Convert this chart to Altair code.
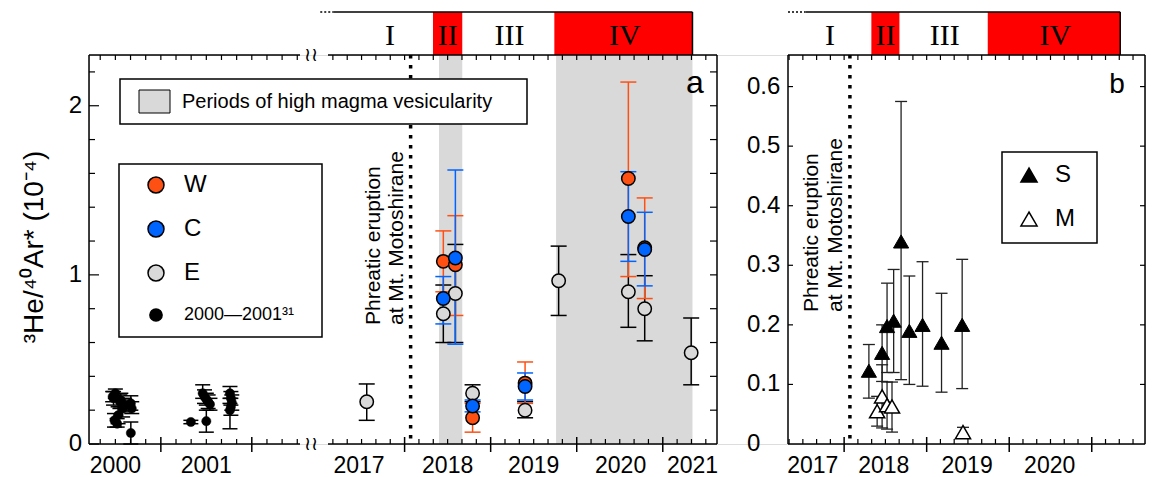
import altair as alt
import pandas as pd
import numpy as np

# ---------------- data ----------------
# Panel a, 2000-2001 data (black dots, ref. 31)
old_year = [2000.47, 2000.55, 2000.50, 2000.58, 2000.48, 2000.53, 2000.60, 2000.49, 2000.56, 2000.52,
            2000.67, 2000.68, 2000.67,
            2001.33,
            2001.46, 2001.48, 2001.50, 2001.52, 2001.54, 2001.50,
            2001.76, 2001.77, 2001.78, 2001.77, 2001.76]
old_val = [0.28, 0.25, 0.30, 0.21, 0.27, 0.17, 0.23, 0.14, 0.26, 0.12,
           0.24, 0.21, 0.065,
           0.13,
           0.30, 0.28, 0.265, 0.25, 0.235, 0.135,
           0.30, 0.27, 0.245, 0.22, 0.20]
old_lo = [0.25, 0.21, 0.27, 0.16, 0.23, 0.12, 0.19, 0.10, 0.22, 0.10,
          0.20, 0.18, 0.0,
          0.12,
          0.27, 0.24, 0.23, 0.21, 0.20, 0.07,
          0.27, 0.23, 0.20, 0.17, 0.09]
old_hi = [0.31, 0.29, 0.325, 0.26, 0.31, 0.22, 0.27, 0.18, 0.30, 0.15,
          0.285, 0.25, 0.13,
          0.14,
          0.35, 0.32, 0.30, 0.29, 0.27, 0.20,
          0.34, 0.31, 0.29, 0.27, 0.24]

# Panel a, 2017-2021: W, C, E
w_year = [2018.45, 2018.59, 2018.79, 2019.40, 2020.60, 2020.79]
w_val = [1.08, 1.06, 0.155, 0.36, 1.57, 1.16]
w_lo = [0.90, 0.76, 0.07, 0.24, 0.99, 0.86]
w_hi = [1.26, 1.35, 0.24, 0.485, 2.14, 1.455]

c_year = [2018.45, 2018.59, 2018.79, 2019.40, 2020.60, 2020.79]
c_val = [0.86, 1.10, 0.225, 0.34, 1.345, 1.15]
c_lo = [0.71, 0.59, 0.19, 0.26, 1.08, 0.935]
c_hi = [0.99, 1.62, 0.26, 0.42, 1.61, 1.37]

e_year = [2017.56, 2018.45, 2018.59, 2018.79, 2019.40, 2019.79, 2020.60, 2020.79, 2021.33]
e_val = [0.25, 0.77, 0.89, 0.30, 0.20, 0.965, 0.90, 0.80, 0.54]
e_lo = [0.14, 0.60, 0.60, 0.25, 0.155, 0.76, 0.69, 0.61, 0.35]
e_hi = [0.355, 0.94, 1.18, 0.35, 0.25, 1.17, 1.12, 0.995, 0.745]

# Panel b: S (filled triangles), M (open triangles)
s_year = [2018.30, 2018.46, 2018.52, 2018.60, 2018.69, 2018.79, 2018.95, 2019.18, 2019.43]
s_val = [0.123, 0.153, 0.198, 0.207, 0.34, 0.19, 0.20, 0.17, 0.20]
s_lo = [0.077, 0.105, 0.12, 0.12, 0.108, 0.10, 0.097, 0.087, 0.093]
s_hi = [0.167, 0.20, 0.27, 0.293, 0.575, 0.282, 0.306, 0.253, 0.31]

m_year = [2018.40, 2018.46, 2018.52, 2018.58, 2019.44]
m_val = [0.055, 0.08, 0.065, 0.063, 0.02]
m_lo = [0.03, 0.027, 0.025, 0.02, 0.012]
m_hi = [0.08, 0.133, 0.104, 0.104, 0.028]

# Periods (top bar) and high-vesicularity periods
periods = ["I", "II", "III", "IV"]
period_start = [2017.17, 2018.33, 2018.67, 2019.74]
period_end = [2018.33, 2018.67, 2019.74, 2021.345]
period_label_x = [2017.83, 2018.50, 2019.22, 2020.56]
period_red = [False, True, False, True]
ves_start = [2018.40, 2019.76]
ves_end = [2018.67, 2021.345]
eruption_year = [2018.07]

a_ylabels = [0, 1, 2]
b_ylabels = [0, 0.1, 0.2, 0.3, 0.4, 0.5, 0.6]
old_labels = ["2000", "2001"]
old_label_x = [2000.5, 2001.5]
a_labels = ["2017", "2018", "2019", "2020", "2021"]
a_label_x = [2017.47, 2018.5, 2019.5, 2020.51, 2021.345]
b_labels = ["2017", "2018", "2019", "2020"]
b_label_x = [2017.62, 2018.48, 2019.49, 2020.49]

series_names = ["W", "C", "E", "2000\u20142001\u00b3\u00b9"]
ms_names = ["S", "M"]
y_title = "\u00b3He/\u2074\u2070Ar* (10\u207b\u2074)"

# ---------------- layout / styles ----------------
FONT = "Liberation Sans"
ORANGE = "#ff5014"
BLUE = "#0064ff"
LGRAY = "#d9d9d9"
RED = "#ff0000"
TW = 1056            # whole plotting strip width
H = 389              # plot height
# panel geometry: (x offset in px, width in px, year domain)
PL = (0, 211, [2000.21, 2002.53])
PA = (239, 389, [2017.11, 2021.63])
PB = (699, 357, [2017.32, 2021.645])
ydomA = [0, 2.3]
ydomB = [0, 0.653]
dummy = pd.DataFrame({"d": [0]})


def bimonthly(dom):
    k0 = int(np.ceil(dom[0] * 6 + 1e-6))
    k1 = int(np.floor(dom[1] * 6 - 1e-6))
    return [k / 6 for k in range(k0, k1 + 1)]


def make_enc(panel, ydom):
    x0, w, dom = panel
    k = w / (dom[1] - dom[0])
    xdom = [dom[0] - x0 / k, dom[0] + (TW - x0) / k]

    def X(f):
        return alt.X(f, type="quantitative", scale=alt.Scale(domain=xdom, nice=False, zero=False), axis=None)

    def Y(f):
        return alt.Y(f, type="quantitative", scale=alt.Scale(domain=ydom, nice=False, zero=False), axis=None)
    return X, Y


def errbars(df, X, Y, color, cap, sw):
    r = alt.Chart(df).mark_rule(color=color, strokeWidth=sw, opacity=1).encode(
        x=X("x"), y=Y("lo"), y2=alt.Y2("hi"))
    lo = alt.Chart(df).mark_tick(color=color, orient="horizontal", size=cap, thickness=sw, opacity=1).encode(
        x=X("x"), y=Y("lo"))
    hi = alt.Chart(df).mark_tick(color=color, orient="horizontal", size=cap, thickness=sw, opacity=1).encode(
        x=X("x"), y=Y("hi"))
    return [r, lo, hi]


def points(df, X, Y, fill, size, shape="circle", sw=1.5):
    return alt.Chart(df).mark_point(shape=shape, filled=True, fill=fill, stroke="black",
                                    strokeWidth=sw, size=size, opacity=1).encode(x=X("x"), y=Y("v"))


def xticks(vals, X, y0, y1, sw=1.2):
    return alt.Chart(pd.DataFrame({"t": vals})).mark_rule(color="black", strokeWidth=sw).encode(
        x=X("t"), y=alt.value(y0), y2=alt.value(y1))


def yticks(vals, Y, x0, x1, sw=1.2):
    return alt.Chart(pd.DataFrame({"t": vals})).mark_rule(color="black", strokeWidth=sw).encode(
        y=Y("t"), x=alt.value(x0), x2=alt.value(x1))


def hline(x0, x1, y, sw=1.5):
    return alt.Chart(dummy).mark_rule(color="black", strokeWidth=sw).encode(
        x=alt.value(x0), x2=alt.value(x1), y=alt.value(y))


def vline(x, y0, y1, sw=1.5):
    return alt.Chart(dummy).mark_rule(color="black", strokeWidth=sw).encode(
        x=alt.value(x), y=alt.value(y0), y2=alt.value(y1))


def year_text(labels, xs, X):
    return alt.Chart(pd.DataFrame({"x": xs, "t": labels})).mark_text(
        fontSize=23, font=FONT, baseline="alphabetic", align="center", color="black").encode(
        x=X("x"), y=alt.value(H + 29), text="t:N")


def ylabels(vals, Y, x, align, fmt):
    df = pd.DataFrame({"t": vals, "s": [fmt(v) for v in vals]})
    return alt.Chart(df).mark_text(fontSize=24, font=FONT, align=align, baseline="middle",
                                   color="black").encode(y=Y("t"), x=alt.value(x), text="s:N")


def top_bar(X, dotted_start, solid_start):
    bar_df = pd.DataFrame({"s": period_start, "e": period_end, "lab": periods,
                           "lx": period_label_x, "red": period_red})
    layers = []
    layers.append(alt.Chart(bar_df).transform_filter("datum.red").mark_rect(color=RED).encode(
        x=X("s"), x2="e", y=alt.value(-43), y2=alt.value(0)))
    line_df = pd.DataFrame({"a": [dotted_start], "b": [solid_start], "e": [period_end[-1]]})
    layers.append(alt.Chart(line_df).mark_rule(color="black", strokeWidth=1.5).encode(
        x=X("b"), x2="e", y=alt.value(-43)))
    layers.append(alt.Chart(line_df).mark_rule(color="black", strokeWidth=1.5, strokeDash=[2, 2]).encode(
        x=X("a"), x2="b", y=alt.value(-43)))
    layers.append(alt.Chart(line_df).mark_rule(color="black", strokeWidth=1.5).encode(
        x=X("e"), y=alt.value(-43), y2=alt.value(0)))
    layers.append(alt.Chart(bar_df).mark_text(font="Liberation Serif", fontSize=30, baseline="middle",
                                              color="black").encode(
        x=X("lx"), y=alt.value(-19), text="lab:N"))
    return layers


def eruption_line(X):
    return alt.Chart(pd.DataFrame({"x": eruption_year})).mark_rule(
        color="black", strokeWidth=3.5, strokeDash=[3.5, 6.5]).encode(
        x=X("x"), y=alt.value(0), y2=alt.value(H))


def df_of(x, v, lo, hi):
    return pd.DataFrame({"x": x, "v": v, "lo": lo, "hi": hi})


def text_at(txt, x, y, size, align="left", baseline="middle", **kw):
    return alt.Chart(dummy).mark_text(text=txt, fontSize=size, font=kw.pop("font", FONT), align=align,
                                      baseline=baseline, color="black", **kw).encode(
        x=alt.value(x), y=alt.value(y))


def box(x0, x1, y0, y1, fill="white", sw=1.5):
    return alt.Chart(dummy).mark_rect(fill=fill, stroke="black", strokeWidth=sw).encode(
        x=alt.value(x0), x2=alt.value(x1), y=alt.value(y0), y2=alt.value(y1))


XL, YL = make_enc(PL, ydomA)
XA, YA = make_enc(PA, ydomA)
XB, YB = make_enc(PB, ydomB)
aL, aR, bL, bR = PL[0], PL[0] + PL[1], PB[0], PB[0] + PB[1]
arL, arR = PA[0], PA[0] + PA[1]

old_df = df_of(old_year, old_val, old_lo, old_hi)
e_df = df_of(e_year, e_val, e_lo, e_hi)
w_df = df_of(w_year, w_val, w_lo, w_hi)
c_df = df_of(c_year, c_val, c_lo, c_hi)
s_df = df_of(s_year, s_val, s_lo, s_hi)
m_df = df_of(m_year, m_val, m_lo, m_hi)

layers = []
# background elements
layers.append(alt.Chart(pd.DataFrame({"s": ves_start, "e": ves_end})).mark_rect(color=LGRAY).encode(
    x=XA("s"), x2="e", y=alt.value(0), y2=alt.value(H)))
layers.append(eruption_line(XA))
layers.append(eruption_line(XB))
layers += top_bar(XA, 2017.02, 2017.17)
layers += top_bar(XB, 2017.32, 2017.53)

# frames
layers += [vline(aL, 0, H), hline(aL, aR, 0), hline(aL, aR, H),
           hline(arL, arR, 0), hline(arL, arR, H), vline(arR, 0, H),
           vline(bL, 0, H), vline(bR, 0, H), hline(bL, bR, 0), hline(bL, bR, H)]

# ticks
for X, dom, majors in [(XL, PL[2], [2001, 2002]), (XA, PA[2], [2018, 2019, 2020, 2021]),
                       (XB, PB[2], [2018, 2019, 2020, 2021])]:
    bm = bimonthly(dom)
    layers += [xticks([t for t in bm if abs(t - round(t)) > 1e-6], X, H, H - 5),
               xticks(majors, X, H - 7, H + 8, 1.5),
               xticks(bm, X, 0, 5)]
minorA = [v / 5 for v in range(1, 12) if v % 5]
layers += [yticks([0, 1, 2], YL, aL, aL + 10), yticks(minorA, YL, aL, aL + 6),
           yticks([v / 5 for v in range(1, 12)], YA, arR - 7, arR),
           yticks([v / 10 for v in range(1, 7)], YB, bL, bL + 5),
           yticks([v / 10 for v in range(1, 7)], YB, bR - 5, bR)]

# axis labels
layers.append(ylabels(a_ylabels, YL, aL - 7, "right", lambda v: str(v)))
layers.append(ylabels(b_ylabels, YB, bL - 41, "left", lambda v: "0" if v == 0 else f"{v:.1f}"))
layers.append(year_text(old_labels, old_label_x, XL))
layers.append(year_text(a_labels, a_label_x, XA))
layers.append(year_text(b_labels, b_label_x, XB))
layers.append(text_at(y_title, aL - 46, 192, 28, align="center", baseline="alphabetic", angle=270))
for yy in [0, H]:
    layers.append(text_at("\u2240\u2240", aR + 11, yy, 19, align="center", font="DejaVu Sans"))

# data
layers += errbars(old_df, XL, YL, "black", 15, 1.5)
layers.append(points(old_df, XL, YL, "black", 85, sw=0.5))
layers += errbars(e_df, XA, YA, "black", 16, 1.5)
layers += errbars(w_df, XA, YA, ORANGE, 16, 1.5)
layers += errbars(c_df, XA, YA, BLUE, 16, 1.5)
layers.append(points(w_df, XA, YA, ORANGE, 180))
layers.append(points(e_df, XA, YA, LGRAY, 180))
layers.append(points(c_df, XA, YA, BLUE, 180))
layers += errbars(s_df, XB, YB, "#222222", 12, 1.3)
layers += errbars(m_df, XB, YB, "#222222", 12, 1.3)
layers.append(points(s_df, XB, YB, "black", 230, shape="triangle-up", sw=1))
layers.append(points(m_df, XB, YB, "white", 230, shape="triangle-up", sw=1.5))

# annotations
layers.append(text_at(["Phreatic eruption", "at Mt. Motoshirane"], arL + 52, 270, 21,
                      baseline="alphabetic", angle=270, lineHeight=23))
layers.append(text_at(["Phreatic eruption", "at Mt. Motoshirane"], bL + 30, 257, 21,
                      baseline="alphabetic", angle=270, lineHeight=24))
layers.append(text_at("a", arR - 22, 38, 32, align="center", baseline="alphabetic"))
layers.append(text_at("b", bR - 28, 38, 28, align="center", baseline="alphabetic"))

# legend W / C / E / 2000-2001
layers.append(box(30, 233, 109, 282))
leg_fill = [ORANGE, BLUE, LGRAY, "black"]
leg_size = [255, 255, 255, 150]
leg_fs = [24, 24, 24, 18]
leg_y = [130, 174, 218, 260]
for name, f, s, fs, ly in zip(series_names, leg_fill, leg_size, leg_fs, leg_y):
    layers.append(alt.Chart(dummy).mark_point(shape="circle", filled=True, fill=f, stroke="black",
                                              strokeWidth=1.5, size=s, opacity=1).encode(
        x=alt.value(67), y=alt.value(ly)))
    layers.append(text_at(name, 95, ly, fs))

# legend: periods of high magma vesicularity
layers.append(box(31, 438, 24, 69))
layers.append(box(50, 81, 35, 58, fill=LGRAY, sw=1))
layers.append(text_at("Periods of high magma vesicularity", 93, 47, 20))

# legend S / M
layers.append(box(913, 1008, 97, 188))
for name, f, ly in zip(ms_names, ["black", "white"], [120, 164]):
    layers.append(alt.Chart(dummy).mark_point(shape="triangle-up", filled=True, fill=f, stroke="black",
                                              strokeWidth=1.5, size=260, opacity=1).encode(
        x=alt.value(940), y=alt.value(ly)))
    layers.append(text_at(name, 966, ly, 24))

chart = alt.layer(*layers).resolve_scale(x="independent", y="independent").properties(
    width=TW, height=H,
    autosize=alt.AutoSizeParams(type="none"),
    padding={"left": 89, "top": 55, "right": 8, "bottom": 33}
).configure_view(stroke=None).configure(font=FONT)

chart.save("out.html", embed_options={"renderer": "svg", "actions": False})
